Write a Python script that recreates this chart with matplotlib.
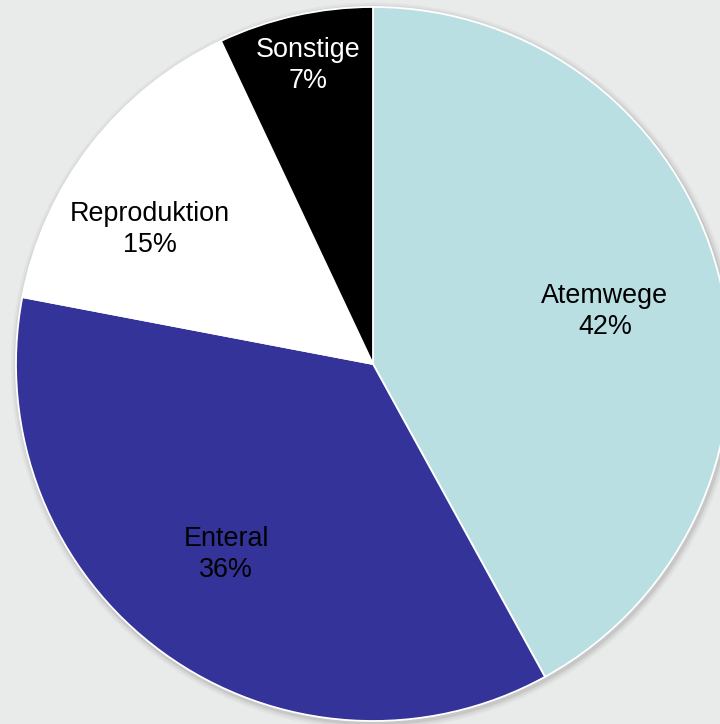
import numpy as np
import matplotlib.pyplot as plt
from matplotlib.patches import Circle

plt.rcParams["font.family"] = ["Liberation Sans", "DejaVu Sans"]

# data
labels = ["Atemwege", "Enteral", "Reproduktion", "Sonstige"]
shares = [42, 36, 15, 7]
colors = ["#B9DFE3", "#333399", "#FFFFFF", "#000000"]
txtcol = ["black", "black", "black", "white"]
labdist = [0.666, 0.675, 0.731, 0.855]   # label radius per slice
labshift = [-1.7, -1.6, 6.7, -0.3]       # label angle offset from slice middle (deg)

bg = "#E9EBEA"
fig = plt.figure(figsize=(7.2, 7.24), dpi=100, facecolor=bg)
ax = fig.add_axes([0, 0, 1, 1])
ax.set_facecolor(bg)

# soft shadow under the pie
for k, a in zip([1.018, 1.012, 1.006], [0.05, 0.08, 0.12]):
    ax.add_patch(Circle((0.004, -0.006), k, color="#555555", alpha=a, lw=0, zorder=0))

wedges, _ = ax.pie(shares, colors=colors, startangle=90, counterclock=False,
                   radius=1, center=(0, 0),
                   wedgeprops=dict(edgecolor="white", linewidth=1.3))
for w in wedges:
    w.set_zorder(2)

for w, lab, s, c, d, sh in zip(wedges, labels, shares, txtcol, labdist, labshift):
    th = np.deg2rad((w.theta1 + w.theta2) / 2 + sh)
    ax.text(d * np.cos(th), d * np.sin(th), f"{lab}\n{s}%", ha="center", va="center",
            fontsize=19.4, color=c, linespacing=1.25, zorder=3)

ax.set_xlim(-373 / 357, 347 / 357)
ax.set_ylim(-360 / 357, 364 / 357)
ax.set_aspect("equal")
ax.axis("off")

fig.savefig("out.png", dpi=100, facecolor=bg)
